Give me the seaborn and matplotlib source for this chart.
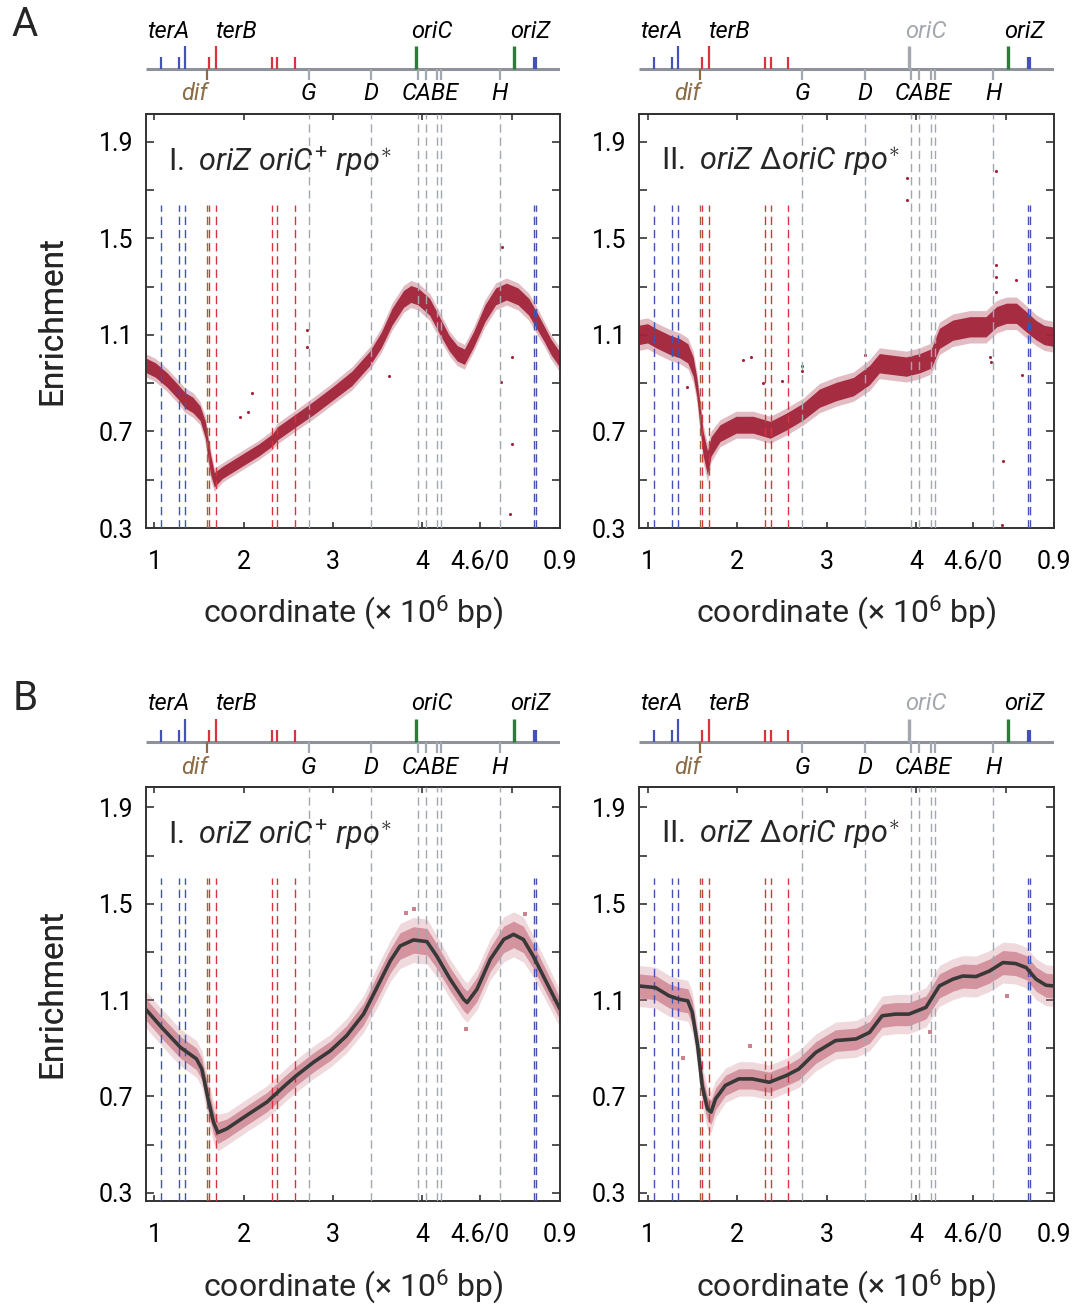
import numpy as np
import pandas as pd
import matplotlib
matplotlib.use("Agg")
import matplotlib.pyplot as plt
import seaborn as sns

sns.set_theme(style="ticks")
plt.rcParams['font.family'] = ['Roboto', 'DejaVu Sans']
plt.rcParams['mathtext.fontset'] = 'custom'
plt.rcParams['mathtext.rm'] = 'Roboto'
plt.rcParams['mathtext.it'] = 'Roboto:italic'
plt.rcParams['mathtext.bf'] = 'Roboto:bold'

# ---------------- data (Mb; axis runs 0.9 -> 4.64/0 -> 0.9) ----------------
GENOME_LEN = 4.64
X_TICKS = [1, 2, 3, 4, 4.64, 5.54]
X_TICK_LABELS = ["1", "2", "3", "4", "4.6/0", "0.9"]
X_TOP_TICKS = [1, 2, 3, 4, 5]
Y_TICKS = [0.3, 0.5, 0.7, 0.9, 1.1, 1.3, 1.5, 1.7, 1.9]
Y_TICK_LABELS = ["0.3", "", "0.7", "", "1.1", "", "1.5", "", "1.9"]

# genomic features (genome coordinate, Mb)
TER_BLUE = [1.078, 1.278, 1.340, 0.610, 0.630]
TER_BLUE_TALL = [False, False, True, False, False]
TER_RED = [1.607, 1.685, 2.316, 2.376, 2.574]
TER_RED_TALL = [False, True, False, False, False]
DIF = 1.588
RRN = [2.729, 3.427, 3.945, 4.035, 4.166, 4.208, 0.223]
RRN_LABELS = ["G", "D", "CABE", "H"]
RRN_LABEL_POS = [2.729, 3.427, 4.085, 0.223]
ORIC = 3.925
ORIZ = 0.390

# Panel A-I : oriZ oriC+ rpo*  (marker-frequency band: centre and half-width)
A1_x = [0.90, 1.01, 1.14, 1.26, 1.34, 1.43, 1.51, 1.57, 1.59, 1.63, 1.67, 1.76, 1.96, 2.17,
        2.32, 2.38, 2.59, 2.79, 3.00, 3.21, 3.41, 3.54, 3.66, 3.79, 3.87, 3.95, 4.08, 4.20,
        4.30, 4.39, 4.47, 4.57, 4.70, 4.82, 4.94, 5.07, 5.19, 5.28, 5.36, 5.44, 5.54]
A1_y = [0.975, 0.955, 0.914, 0.866, 0.830, 0.810, 0.776, 0.707, 0.650, 0.560, 0.500, 0.530,
        0.576, 0.624, 0.665, 0.693, 0.748, 0.800, 0.859, 0.920, 1.003, 1.080, 1.176, 1.250,
        1.270, 1.260, 1.217, 1.134, 1.066, 1.024, 1.010, 1.080, 1.190, 1.260, 1.280, 1.260,
        1.217, 1.160, 1.107, 1.050, 0.997]
A1_s = [0.030, 0.030, 0.030, 0.030, 0.032, 0.032, 0.030, 0.035, 0.040, 0.040, 0.030, 0.025,
        0.025, 0.025, 0.025, 0.027, 0.027, 0.028, 0.028, 0.030, 0.030, 0.032, 0.035, 0.035,
        0.035, 0.035, 0.035, 0.035, 0.032, 0.032, 0.032, 0.032, 0.035, 0.035, 0.035, 0.035,
        0.035, 0.035, 0.032, 0.032, 0.032]
A1_out_x = [2.71, 2.71, 3.63, 4.89, 5.00, 4.98, 4.88, 5.00, 1.96, 2.09, 2.05]
A1_out_y = [1.12, 1.05, 0.93, 1.466, 0.65, 0.36, 0.907, 1.01, 0.76, 0.86, 0.78]

# Panel A-II : oriZ ΔoriC rpo*
A2_x = [0.90, 1.00, 1.10, 1.25, 1.36, 1.45, 1.51, 1.55, 1.58, 1.62, 1.67, 1.71, 1.81, 1.99,
        2.18, 2.37, 2.55, 2.74, 2.92, 3.11, 3.30, 3.48, 3.59, 3.74, 3.89, 4.04, 4.17, 4.26,
        4.41, 4.60, 4.78, 4.90, 5.01, 5.12, 5.23, 5.34, 5.43, 5.53]
A2_y = [1.100, 1.107, 1.086, 1.059, 1.045, 1.024, 0.969, 0.886, 0.790, 0.652, 0.570, 0.638,
        0.693, 0.728, 0.728, 0.707, 0.741, 0.783, 0.838, 0.866, 0.886, 0.934, 0.983, 0.976,
        0.969, 0.983, 1.003, 1.086, 1.120, 1.134, 1.134, 1.176, 1.190, 1.190, 1.155, 1.120,
        1.100, 1.093]
A2_s = [0.040, 0.040, 0.040, 0.040, 0.040, 0.040, 0.040, 0.040, 0.045, 0.050, 0.050, 0.040,
        0.035, 0.035, 0.035, 0.035, 0.035, 0.035, 0.038, 0.038, 0.038, 0.040, 0.040, 0.040,
        0.040, 0.040, 0.040, 0.042, 0.042, 0.042, 0.042, 0.042, 0.042, 0.042, 0.042, 0.040,
        0.040, 0.040]
A2_out_x = [3.90, 3.90, 4.89, 4.89, 4.89, 4.89, 5.12, 4.97, 4.96, 2.07, 2.16, 2.72, 2.72,
            2.50, 2.29, 3.43, 5.18, 1.44, 4.82, 4.84]
A2_out_y = [1.75, 1.66, 1.78, 1.39, 1.34, 1.28, 1.33, 0.576, 0.314, 0.997, 1.01, 0.97, 0.95,
            0.91, 0.90, 1.017, 0.934, 0.886, 1.01, 0.99]

# Panel B-I : smoothed profile and band of binned points
B1_x = [0.90, 1.08, 1.29, 1.47, 1.53, 1.60, 1.66, 1.71, 1.81, 2.03, 2.26, 2.48, 2.59, 2.78,
        2.97, 3.15, 3.34, 3.49, 3.64, 3.75, 3.90, 4.05, 4.16, 4.31, 4.46, 4.50, 4.61, 4.76,
        4.91, 5.02, 5.13, 5.24, 5.39, 5.54]
B1_y = [1.063, 0.987, 0.904, 0.856, 0.814, 0.690, 0.594, 0.550, 0.566, 0.621, 0.677, 0.752,
        0.787, 0.842, 0.890, 0.952, 1.042, 1.152, 1.263, 1.325, 1.350, 1.343, 1.283, 1.187,
        1.104, 1.090, 1.145, 1.270, 1.352, 1.373, 1.352, 1.283, 1.173, 1.063]
B1_s = [0.045, 0.045, 0.045, 0.045, 0.045, 0.050, 0.050, 0.045, 0.040, 0.040, 0.040, 0.040,
        0.040, 0.040, 0.040, 0.042, 0.045, 0.050, 0.050, 0.055, 0.055, 0.055, 0.050, 0.048,
        0.048, 0.048, 0.050, 0.050, 0.055, 0.055, 0.055, 0.050, 0.048, 0.045]
B1_out_x = [3.90, 5.15, 4.49, 3.82]
B1_out_y = [1.477, 1.456, 0.98, 1.46]

# Panel B-II
B2_x = [0.90, 1.09, 1.24, 1.35, 1.45, 1.50, 1.56, 1.61, 1.67, 1.71, 1.76, 1.87, 2.02, 2.17,
        2.36, 2.55, 2.69, 2.88, 3.10, 3.33, 3.48, 3.62, 3.77, 3.92, 4.11, 4.26, 4.41, 4.52,
        4.67, 4.82, 4.97, 5.11, 5.23, 5.34, 5.45, 5.53]
B2_y = [1.159, 1.152, 1.118, 1.104, 1.097, 1.049, 0.911, 0.746, 0.649, 0.635, 0.690, 0.746,
        0.773, 0.773, 0.759, 0.787, 0.814, 0.883, 0.932, 0.939, 0.966, 1.035, 1.042, 1.042,
        1.070, 1.159, 1.187, 1.200, 1.198, 1.221, 1.256, 1.252, 1.235, 1.187, 1.162, 1.159]
B2_s = [0.050, 0.050, 0.050, 0.050, 0.050, 0.050, 0.050, 0.050, 0.050, 0.050, 0.045, 0.042,
        0.042, 0.042, 0.042, 0.042, 0.045, 0.045, 0.045, 0.045, 0.045, 0.048, 0.048, 0.048,
        0.048, 0.050, 0.050, 0.050, 0.050, 0.050, 0.050, 0.050, 0.050, 0.050, 0.050, 0.050]
B2_out_x = [5.02, 4.16, 2.15, 1.40]
B2_out_y = [1.118, 0.966, 0.911, 0.86]

TITLE_I = r"$\mathrm{I.}\ \mathit{oriZ}\ \mathit{oriC}^{+}\ \mathit{rpo}^{\ast}$"
TITLE_II = r"$\mathrm{II.}\ \mathit{oriZ}\ \mathit{\Delta oriC}\ \mathit{rpo}^{\ast}$"

# ---------------- styling ----------------
W, H = 1073, 1305
XMIN, XMAX = 0.905, 5.54
C_BLUE = "#4452b3"
C_RED = "#d8333f"
C_GREEN = "#2f7a3b"
C_BROWN = "#8c6b47"
C_GRAY = "#a3a8b0"
C_BASE = "#8e939b"
C_DOT_A = "#a2243a"
C_DOT_B = "#cc8390"
C_LINE = "#383838"
C_AX = "#333333"


def unwrap(p):
    return p + GENOME_LEN if p < 0.9 else p


fig = plt.figure(figsize=(W / 100, H / 100), dpi=100)


def px_axes(x0, y0, x1, y1):
    return fig.add_axes([x0 / W, 1 - y1 / H, (x1 - x0) / W, (y1 - y0) / H])


def draw_strip(ax, oric_present):
    ax.set_xlim(XMIN, XMAX)
    ax.set_ylim(108, 10)
    ax.axis("off")
    ax.plot([XMIN, XMAX], [69, 69], color=C_BASE, lw=2.2, solid_capstyle="butt", zorder=1)
    for p, tall in zip(TER_BLUE, TER_BLUE_TALL):
        ax.vlines(unwrap(p), 46 if tall else 57, 69, color=C_BLUE, lw=1.6, zorder=2)
    for p, tall in zip(TER_RED, TER_RED_TALL):
        ax.vlines(unwrap(p), 46 if tall else 57, 69, color=C_RED, lw=1.6, zorder=2)
    ax.vlines(unwrap(DIF), 69, 80, color=C_BROWN, lw=1.6)
    for p in RRN:
        ax.vlines(unwrap(p), 69, 80, color=C_GRAY, lw=1.6)
    oc = C_GREEN if oric_present else C_GRAY
    ax.vlines(unwrap(ORIC), 46, 69, color=oc, lw=2.4, zorder=2)
    ax.vlines(unwrap(ORIZ), 46, 69, color=C_GREEN, lw=2.4, zorder=2)
    kw = dict(fontsize=17, style="italic", va="center")
    ax.text(1.39, 31, "terA", ha="right", color="black", **kw)
    ax.text(1.675, 31, "terB", ha="left", color="black", **kw)
    ax.text(unwrap(ORIC) - 0.05, 31, "oriC", ha="left",
            color="black" if oric_present else C_GRAY, **kw)
    ax.text(unwrap(ORIZ) - 0.05, 31, "oriZ", ha="left", color="black", **kw)
    ax.text(unwrap(DIF) + 0.01, 94, "dif", ha="right", color=C_BROWN, **kw)
    for lab, p in zip(RRN_LABELS, RRN_LABEL_POS):
        ax.text(unwrap(p), 94, lab, ha="center", color="black", **kw)


def draw_main(ax, xs, ys, ss, ox, oy, ylim, title, smooth):
    xs = np.asarray(xs); ys = np.asarray(ys); ss = np.asarray(ss)
    if smooth:
        ax.fill_between(xs, ys - 1.7 * ss, ys + 1.7 * ss, color=C_DOT_B, alpha=0.3, lw=0, zorder=1)
        ax.fill_between(xs, ys - ss, ys + ss, color=C_DOT_B, alpha=0.8, lw=0, zorder=1.1)
        sns.scatterplot(x=ox, y=oy, ax=ax, color=C_DOT_B, s=6, marker="s", linewidth=0, zorder=1.2)
        sns.lineplot(x=xs, y=ys, ax=ax, color=C_LINE, lw=2.6, zorder=4)
    else:
        ax.fill_between(xs, ys - 1.6 * ss, ys + 1.6 * ss, color=C_DOT_A, alpha=0.3, lw=0, zorder=1)
        ax.fill_between(xs, ys - ss, ys + ss, color=C_DOT_A, alpha=0.95, lw=0, zorder=1.1)
        sns.scatterplot(x=ox, y=oy, ax=ax, color=C_DOT_A, s=5, linewidth=0, zorder=1.2)
    dash = (0, (6, 3.5))
    for p in TER_BLUE:
        ax.axvline(unwrap(p), 0, 0.78, color=C_BLUE, lw=1.0, ls=dash, zorder=3)
    for p in TER_RED:
        ax.axvline(unwrap(p), 0, 0.78, color=C_RED, lw=1.0, ls=dash, zorder=3)
    ax.axvline(unwrap(DIF), 0, 0.78, color=C_BROWN, lw=1.0, ls=dash, zorder=3)
    for p in RRN:
        ax.axvline(unwrap(p), 0, 1, color=C_GRAY, lw=1.0, ls=dash, zorder=3)
    ax.set_xlim(XMIN, XMAX)
    ax.set_ylim(*ylim)
    ax.set_xticks(X_TICKS)
    ax.set_xticklabels(X_TICK_LABELS)
    ax.set_yticks(Y_TICKS)
    ax.set_yticklabels(Y_TICK_LABELS)
    ax.tick_params(axis="x", direction="in", length=4.3, width=1.2, pad=16, labelsize=18,
                   color=C_AX, labelcolor="black")
    ax.tick_params(axis="y", direction="in", length=5.8, width=1.2, pad=9, labelsize=18,
                   right=True, color=C_AX, labelcolor="black")
    sec = ax.secondary_xaxis("top")
    sec.set_xticks(X_TOP_TICKS)
    sec.set_xticklabels([])
    sec.tick_params(direction="in", length=4.3, width=1.2, color=C_AX)
    for sp in list(ax.spines.values()) + list(sec.spines.values()):
        sp.set_color(C_AX)
        sp.set_linewidth(1.4)
        sp.set_visible(True)
    ax.set_xlabel("")
    ax.set_ylabel("")
    ax.text(0.053, 0.884, title, transform=ax.transAxes, fontsize=22, ha="left", va="center",
            zorder=5)


ROW_OFF = [0, 673]
YLIMS = [(0.3, 2.016), (0.266, 1.985)]
COLS = [(146, 560), (639, 1054)]
panels = [
    [(A1_x, A1_y, A1_s, A1_out_x, A1_out_y, TITLE_I, True),
     (A2_x, A2_y, A2_s, A2_out_x, A2_out_y, TITLE_II, False)],
    [(B1_x, B1_y, B1_s, B1_out_x, B1_out_y, TITLE_I, True),
     (B2_x, B2_y, B2_s, B2_out_x, B2_out_y, TITLE_II, False)],
]

for r, off in enumerate(ROW_OFF):
    for c, (x0, x1) in enumerate(COLS):
        xs, ys, ss, ox, oy, title, oric = panels[r][c]
        sax = px_axes(x0, 10 + off, x1, 108 + off)
        draw_strip(sax, oric)
        ax = px_axes(x0, 114 + off, x1, 528 + off)
        draw_main(ax, xs, ys, ss, ox, oy, YLIMS[r], title, smooth=(r == 1))
        fig.text(52 / W, 1 - (321 + off) / H, "Enrichment", rotation=90, ha="center",
                 va="center", fontsize=24)
        fig.text(((x0 + x1) / 2) / W, 1 - (613 + off) / H, r"coordinate (× 10$^{6}$ bp)",
                 ha="center", va="center", fontsize=23)

fig.text(25 / W, 1 - 25 / H, "A", ha="center", va="center", fontsize=29)
fig.text(25 / W, 1 - 698 / H, "B", ha="center", va="center", fontsize=29)

fig.savefig("out.png", dpi=100)
